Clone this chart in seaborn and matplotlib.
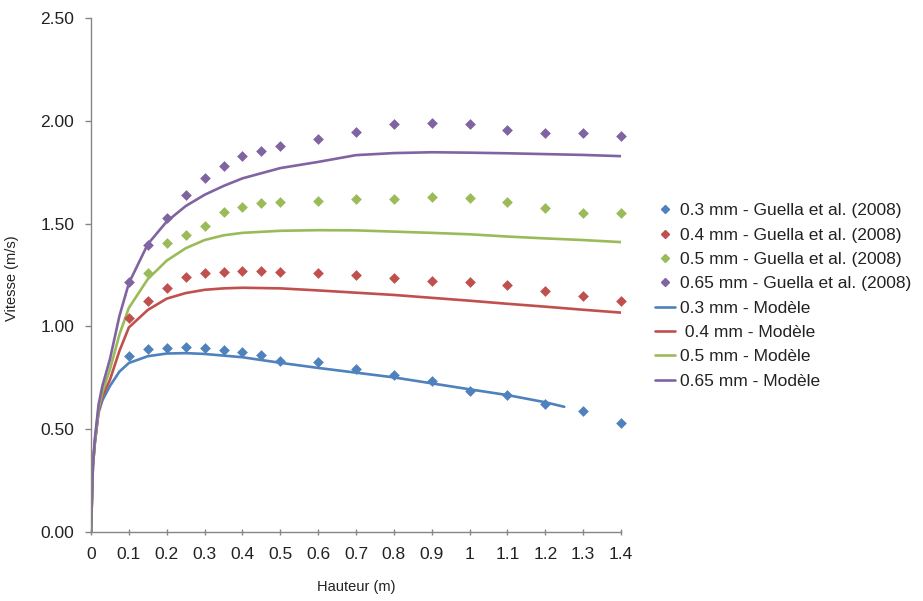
import numpy as np
import pandas as pd
import matplotlib
matplotlib.use("Agg")
import matplotlib.pyplot as plt
import seaborn as sns
from matplotlib.lines import Line2D

sns.set_theme(style="white")
plt.rcParams['font.family'] = ['Liberation Sans', 'DejaVu Sans']

# Excel 2007 palette
COLORS = {'0.3': '#4F81BD', '0.4': '#C0504D', '0.5': '#9BBB59', '0.65': '#8064A2'}

# measured points (Guella et al. 2008)
x_pts = [0.1, 0.15, 0.2, 0.25, 0.3, 0.35, 0.4, 0.45, 0.5, 0.6, 0.7, 0.8, 0.9, 1.0, 1.1, 1.2, 1.3, 1.4]
pts_03 = [0.857, 0.889, 0.896, 0.900, 0.896, 0.885, 0.875, 0.861, 0.833, 0.825, 0.791, 0.765, 0.733, 0.687, 0.668, 0.623, 0.587, 0.529]
pts_04 = [1.040, 1.124, 1.188, 1.242, 1.258, 1.266, 1.271, 1.270, 1.266, 1.258, 1.248, 1.235, 1.222, 1.214, 1.201, 1.174, 1.148, 1.125]
x_pts_05 = x_pts[1:]
pts_05 = [1.261, 1.408, 1.443, 1.488, 1.555, 1.581, 1.602, 1.605, 1.611, 1.620, 1.620, 1.631, 1.626, 1.607, 1.578, 1.553, 1.550]
pts_065 = [1.215, 1.398, 1.526, 1.639, 1.720, 1.780, 1.829, 1.855, 1.877, 1.910, 1.944, 1.983, 1.991, 1.983, 1.955, 1.942, 1.939, 1.928]

# model curves
x_mod = [0, 0.005, 0.01, 0.02, 0.03, 0.05, 0.075, 0.1, 0.15, 0.2, 0.25, 0.3, 0.35, 0.4,
         0.5, 0.6, 0.7, 0.8, 0.9, 1.0, 1.1, 1.2, 1.3, 1.4]
x_mod_03 = x_mod[:22] + [1.25]
mod_03 = [0, 0.32, 0.43, 0.58, 0.64, 0.71, 0.78, 0.822, 0.855, 0.868, 0.870, 0.866, 0.858, 0.850,
          0.823, 0.798, 0.775, 0.752, 0.723, 0.694, 0.666, 0.631, 0.609]
mod_04 = [0, 0.32, 0.43, 0.59, 0.66, 0.74, 0.88, 0.995, 1.08, 1.135, 1.162, 1.178, 1.185, 1.188,
          1.185, 1.175, 1.164, 1.153, 1.139, 1.125, 1.110, 1.096, 1.081, 1.067]
mod_05 = [0, 0.32, 0.44, 0.60, 0.68, 0.79, 0.96, 1.09, 1.23, 1.32, 1.38, 1.42, 1.443, 1.455,
          1.465, 1.468, 1.467, 1.461, 1.455, 1.448, 1.437, 1.428, 1.420, 1.410]
mod_065 = [0, 0.33, 0.45, 0.62, 0.71, 0.84, 1.05, 1.21, 1.40, 1.51, 1.585, 1.64, 1.683, 1.72,
           1.77, 1.80, 1.833, 1.843, 1.847, 1.845, 1.842, 1.838, 1.834, 1.828]

sizes = ['0.3', '0.4', '0.5', '0.65']
point_series = [(x_pts, pts_03), (x_pts, pts_04), (x_pts_05, pts_05), (x_pts, pts_065)]
model_series = [(x_mod_03, mod_03), (x_mod, mod_04), (x_mod, mod_05), (x_mod, mod_065)]
point_labels = ['0.3 mm - Guella et al. (2008)', '0.4 mm - Guella et al. (2008)',
                '0.5 mm - Guella et al. (2008)', '0.65 mm - Guella et al. (2008)']
model_labels = ['0.3 mm - Modèle', ' 0.4 mm - Modèle', '0.5 mm - Modèle', '0.65 mm - Modèle']

x_ticks = [0, 0.1, 0.2, 0.3, 0.4, 0.5, 0.6, 0.7, 0.8, 0.9, 1.0, 1.1, 1.2, 1.3, 1.4]
y_ticks = [0, 0.5, 1.0, 1.5, 2.0, 2.5]

fig = plt.figure(figsize=(9.23, 6.01), dpi=100)
ax = fig.add_axes([91 / 923, 1 - 532 / 601, 530 / 923, 514 / 601])

for s, (xs, ys) in zip(sizes, model_series):
    sns.lineplot(x=xs, y=ys, ax=ax, color=COLORS[s], linewidth=1.9, sort=False,
                 estimator=None, legend=False)

for s, (xs, ys) in zip(sizes, point_series):
    sns.scatterplot(x=xs, y=ys, ax=ax, color=COLORS[s], marker='D', s=30,
                    linewidth=0, legend=False, clip_on=False, zorder=3)

ax.set_xlim(0, 1.4)
ax.set_ylim(0, 2.5)
ax.set_xticks(x_ticks)
ax.set_xticklabels(['%g' % v for v in x_ticks])
ax.set_yticks(y_ticks)
ax.set_yticklabels(['%.2f' % v for v in y_ticks])

for side in ['top', 'right']:
    ax.spines[side].set_visible(False)
for side in ['left', 'bottom']:
    ax.spines[side].set_color('#868686')
    ax.spines[side].set_linewidth(1.0)
ax.tick_params(axis='both', length=4, width=1, color='#868686',
               labelsize=12.5, labelcolor='#222222', bottom=True, left=True)
ax.tick_params(axis='x', direction='inout', pad=9)
ax.tick_params(axis='y', direction='out', pad=8)

ax.set_xlabel('Hauteur (m)', fontsize=10.5, color='#222222')
ax.set_ylabel('Vitesse (m/s)', fontsize=10.5, color='#222222')
ax.xaxis.set_label_coords(0.5, -0.093)
ax.yaxis.set_label_coords(-0.136, 0.494)

handles = []
for s in sizes:
    handles.append(Line2D([], [], color=COLORS[s], marker='D', linestyle='None', markersize=4))
for s in sizes:
    handles.append(Line2D([], [], color=COLORS[s], linewidth=1.9))
fig.legend(handles, point_labels + model_labels, loc='center left',
           bbox_to_anchor=(648 / 923, 1 - 296 / 601), frameon=False, fontsize=12.5,
           handlelength=1.15, handletextpad=0.3, labelspacing=0.53, borderaxespad=0,
           labelcolor='#222222')

fig.savefig('out.png', dpi=100)
